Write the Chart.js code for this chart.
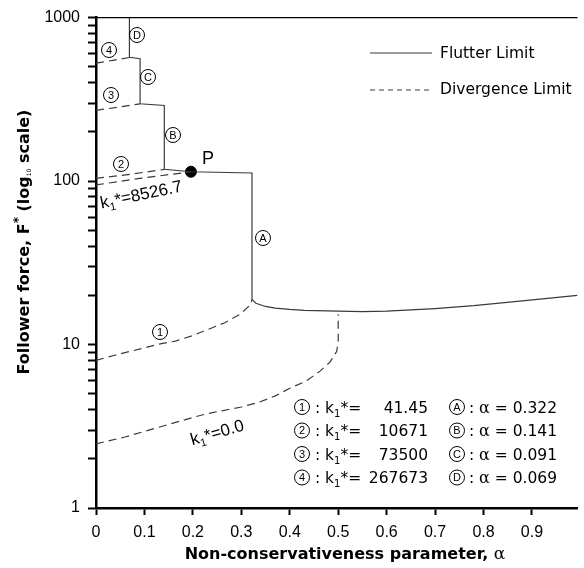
<!DOCTYPE html>
<html>
<head>
<meta charset="utf-8">
<script src="https://cdn.jsdelivr.net/npm/chart.js@4"></script>
<style>
  body { margin: 0; background: #fff; }
  #wrap { width: 584px; height: 568px; }
</style>
</head>
<body>
<div id="wrap"><canvas id="myChart" width="584" height="568"></canvas></div>
<script>
// tick values
const alphaTicks = [0, 0.1, 0.2, 0.3, 0.4, 0.5, 0.6, 0.7, 0.8, 0.9];
const forceTicks = [1, 2, 3, 4, 5, 6, 7, 8, 9, 10, 20, 30, 40, 50, 60, 70, 80, 90,
    100, 200, 300, 400, 500, 600, 700, 800, 900, 1000];
const forceLabels = [1, 10, 100, 1000];

// flutter limit (solid)
const flutterAlpha = [0.069, 0.069, 0.091, 0.091, 0.141, 0.141, 0.196, 0.322, 0.322, 0.33, 0.35, 0.37,
    0.40, 0.43, 0.50, 0.55, 0.60, 0.70, 0.78, 0.88, 0.994];
const flutterForce = [1000, 572, 560, 297, 290, 118, 114, 112, 18.9, 17.9, 17.1, 16.7,
    16.4, 16.2, 16.0, 15.9, 16.0, 16.6, 17.3, 18.5, 20.0];

// divergence limits (dashed)
const divK0Alpha = [0, 0.06, 0.13, 0.2, 0.23, 0.30, 0.335, 0.37, 0.40, 0.435, 0.463, 0.483, 0.497, 0.50, 0.50];
const divK0Force = [2.47, 2.72, 3.12, 3.58, 3.78, 4.15, 4.42, 4.85, 5.40, 6.0, 6.9, 7.8, 9.1, 10.5, 15.3];
const div1Alpha = [0, 0.035, 0.069, 0.103, 0.13, 0.164, 0.198, 0.232, 0.266, 0.297, 0.32, 0.322];
const div1Force = [8.0, 8.54, 9.06, 9.59, 10.05, 10.5, 11.3, 12.4, 13.6, 15.3, 17.6, 18.9];
const div2Alpha = [0, 0.07, 0.141];
const div2Force = [103.8, 110, 117.8];
const divPAlpha = [0, 0.09, 0.196];
const divPForce = [94.7, 103.8, 114];
const div3Alpha = [0, 0.049, 0.091];
const div3Force = [271, 284, 297];
const div4Alpha = [0, 0.035, 0.069];
const div4Force = [526, 548, 570];

const pointPAlpha = [0.196];
const pointPForce = [114];

// table text
const tableK = ['41.45', '10671', '73500', '267673'];
const tableLetters = ['A', 'B', 'C', 'D'];
const tableAlpha = ['0.322', '0.141', '0.091', '0.069'];

function zip(xs, ys) {
    return xs.map((x, i) => ({ x: x, y: ys[i] }));
}

const LINE = '#3a3a3a';

function lineSet(xs, ys, dashed) {
    return {
        data: zip(xs, ys),
        showLine: true,
        borderColor: LINE,
        borderWidth: 1.2,
        borderDash: dashed ? [8, 5] : [],
        pointRadius: 0,
        tension: 0
    };
}

function measureParts(ctx, parts) {
    let w = 0;
    parts.forEach(p => { ctx.font = p.f; w += ctx.measureText(p.t).width; });
    return w;
}

function drawParts(ctx, x, y, parts) {
    ctx.textAlign = 'left';
    ctx.textBaseline = 'alphabetic';
    parts.forEach(p => {
        ctx.font = p.f;
        ctx.fillText(p.t, x, y + (p.dy || 0));
        x += ctx.measureText(p.t).width;
    });
    return x;
}

function circled(ctx, cx, cy, ch) {
    ctx.save();
    ctx.beginPath();
    ctx.arc(cx, cy, 7.5, 0, Math.PI * 2);
    ctx.lineWidth = 1;
    ctx.strokeStyle = '#000';
    ctx.stroke();
    ctx.font = '11px "Liberation Sans"';
    ctx.textAlign = 'center';
    ctx.textBaseline = 'middle';
    ctx.fillStyle = '#000';
    ctx.fillText(ch, cx, cy + 0.5);
    ctx.restore();
}

const SANS = '"Liberation Sans"';
const DV = '"DejaVu Sans"';

const annotations = {
    id: 'annotations',
    afterDraw(chart) {
        const ctx = chart.ctx;
        const a = chart.chartArea;
        ctx.save();
        ctx.fillStyle = '#000';
        ctx.strokeStyle = '#000';

        // top frame line
        ctx.beginPath();
        ctx.lineWidth = 1.2;
        ctx.moveTo(a.left, a.top);
        ctx.lineTo(a.right, a.top);
        ctx.stroke();

        // legend
        ctx.lineWidth = 1.2;
        ctx.strokeStyle = LINE;
        ctx.beginPath();
        ctx.moveTo(370, 53); ctx.lineTo(432, 53);
        ctx.stroke();
        ctx.setLineDash([5, 4]);
        ctx.beginPath();
        ctx.moveTo(370, 90); ctx.lineTo(432, 90);
        ctx.stroke();
        ctx.setLineDash([]);
        ctx.fillStyle = '#000';
        ctx.font = '15.5px ' + DV;
        ctx.textBaseline = 'middle';
        ctx.textAlign = 'left';
        ctx.fillText('Flutter Limit', 440, 54);
        ctx.fillText('Divergence Limit', 440, 90);

        // circled labels on the curves
        circled(ctx, 137, 35, 'D');
        circled(ctx, 109, 50, '4');
        circled(ctx, 148, 77, 'C');
        circled(ctx, 111, 95, '3');
        circled(ctx, 173, 135, 'B');
        circled(ctx, 121, 164, '2');
        circled(ctx, 263, 238, 'A');
        circled(ctx, 160, 332, '1');

        // P
        ctx.font = '18px ' + SANS;
        ctx.textAlign = 'center';
        ctx.textBaseline = 'middle';
        ctx.fillText('P', 208, 159);

        // rotated k1* labels
        const kParts = (v) => [
            { t: 'k', f: '17px ' + SANS },
            { t: '1', f: '11px ' + SANS, dy: 4 },
            { t: '*=' + v, f: '17px ' + SANS }
        ];
        [[141, 194, -12, '8526.7'], [217, 432, -16, '0.0']].forEach(r => {
            ctx.save();
            ctx.translate(r[0], r[1]);
            ctx.rotate(r[2] * Math.PI / 180);
            const parts = kParts(r[3]);
            const w = measureParts(ctx, parts);
            drawParts(ctx, -w / 2, 6, parts);
            ctx.restore();
        });

        // table
        for (let i = 0; i < 4; i++) {
            const yc = 407 + i * 23.5;
            const yb = yc + 5.5;
            circled(ctx, 302, yc, String(i + 1));
            ctx.fillStyle = '#000';
            drawParts(ctx, 310, yb, [
                { t: ' : k', f: '15.5px ' + DV },
                { t: '1', f: '10px ' + DV, dy: 4 },
                { t: '*=', f: '15.5px ' + DV }
            ]);
            ctx.font = '15.5px ' + DV;
            ctx.textAlign = 'right';
            ctx.fillText(tableK[i], 428, yb);
            circled(ctx, 457, yc, tableLetters[i]);
            ctx.fillStyle = '#000';
            drawParts(ctx, 464, yb, [
                { t: ' : ', f: '15.5px ' + DV },
                { t: '\u03b1', f: '16px "DejaVu Serif"' },
                { t: ' = ' + tableAlpha[i], f: '15.5px ' + DV }
            ]);
        }

        // x axis title
        const xt = [
            { t: 'Non-conservativeness parameter, ', f: 'bold 16px ' + DV },
            { t: '\u03b1', f: '17px "DejaVu Serif"' }
        ];
        const xw = measureParts(ctx, xt);
        drawParts(ctx, 345 - xw / 2, 559, xt);

        // y axis title
        ctx.save();
        ctx.translate(23, 242);
        ctx.rotate(-Math.PI / 2);
        const yt = [
            { t: 'Follower force, F', f: 'bold 16px ' + DV },
            { t: '*', f: 'bold 12px ' + DV, dy: -7 },
            { t: ' (log', f: 'bold 16px ' + DV },
            { t: '10', f: '6px ' + DV, dy: 2 },
            { t: ' scale)', f: 'bold 16px ' + DV }
        ];
        const yw = measureParts(ctx, yt);
        drawParts(ctx, -yw / 2, 6, yt);
        ctx.restore();

        ctx.restore();
    }
};

const ctx = document.getElementById('myChart').getContext('2d');
const chart = new Chart(ctx, {
    type: 'scatter',
    data: {
        datasets: [
            lineSet(flutterAlpha, flutterForce, false),
            lineSet(divK0Alpha, divK0Force, true),
            lineSet(div1Alpha, div1Force, true),
            lineSet(div2Alpha, div2Force, true),
            lineSet(divPAlpha, divPForce, true),
            lineSet(div3Alpha, div3Force, true),
            lineSet(div4Alpha, div4Force, true),
            {
                data: zip(pointPAlpha, pointPForce),
                pointRadius: 5.5,
                pointBackgroundColor: '#000',
                pointBorderColor: '#000',
                showLine: false
            }
        ]
    },
    options: {
        responsive: false,
        animation: false,
        layout: { padding: { top: 15, right: 0, left: 0, bottom: 0 } },
        plugins: { legend: { display: false }, tooltip: { enabled: false } },
        scales: {
            x: {
                type: 'linear',
                min: 0,
                max: 0.994,
                afterBuildTicks: s => { s.ticks = alphaTicks.map(v => ({ value: v })); },
                afterFit: s => { s.height = 60; },
                ticks: {
                    autoSkip: false,
                    maxRotation: 0,
                    padding: 8,
                    color: '#000',
                    font: { family: 'Liberation Sans', size: 16 },
                    callback: v => v === 0 ? '0' : v.toFixed(1)
                },
                grid: { drawOnChartArea: false, drawTicks: true, tickLength: 7, tickWidth: 2, tickColor: '#000' },
                border: { color: '#000', width: 2.5 }
            },
            y: {
                type: 'logarithmic',
                min: 1,
                max: 1000,
                afterBuildTicks: s => { s.ticks = forceTicks.map(v => ({ value: v })); },
                afterFit: s => { s.width = 96; },
                ticks: {
                    autoSkip: false,
                    padding: 8,
                    color: '#000',
                    font: { family: 'Liberation Sans', size: 16 },
                    callback: v => forceLabels.includes(v) ? String(v) : ''
                },
                grid: { drawOnChartArea: false, drawTicks: true, tickLength: 8, tickWidth: 2, tickColor: '#000' },
                border: { color: '#000', width: 2.5 }
            }
        }
    },
    plugins: [annotations]
});
</script>
</body>
</html>
